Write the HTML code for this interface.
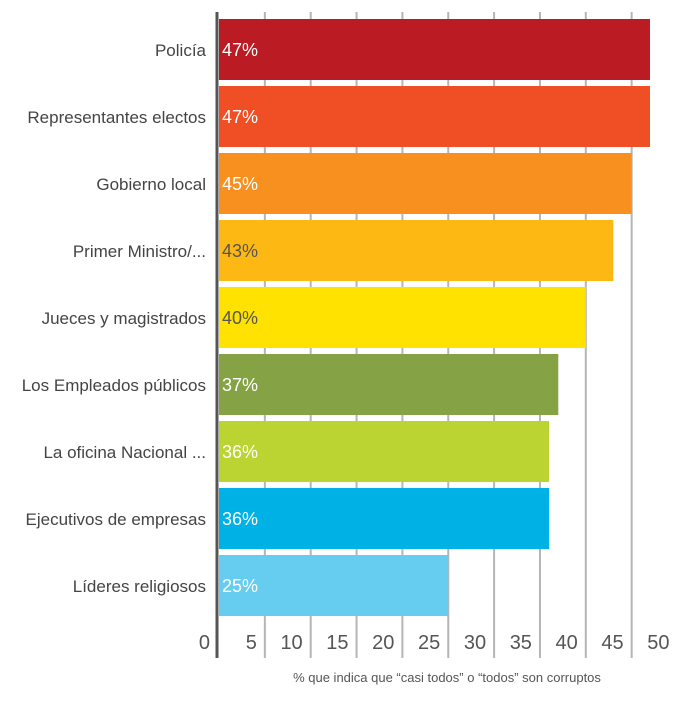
<!DOCTYPE html>
<html><head><meta charset="utf-8"><style>
body{margin:0;background:#fff;width:677px;height:707px;overflow:hidden}
svg{font-family:"Liberation Sans",sans-serif}
</style></head><body>
<svg id="chart" width="677" height="707"></svg>
<script>
const categories=["Policía","Representantes electos","Gobierno local","Primer Ministro/...","Jueces y magistrados","Los Empleados públicos","La oficina Nacional ...","Ejecutivos de empresas","Líderes religiosos"];
const values=[47,47,45,43,40,37,36,36,25];
const colors=["#BB1C23","#F04E25","#F7901E","#FDB813","#FFE200","#85A345","#BBD431","#00B1E6","#66CCF0"];
const labelColors=["#fff","#fff","#fff","#555","#555","#fff","#fff","#fff","#fff"];
const ticks=[0,5,10,15,20,25,30,35,40,45,50];
const NS="http://www.w3.org/2000/svg";
const svg=document.getElementById('chart');
const x=v=>219+9.17*v;
const y=i=>19+67*i;
function mk(t,a,txt){const e=document.createElementNS(NS,t);for(const k in a)e.setAttribute(k,a[k]);if(txt!=null)e.textContent=txt;svg.appendChild(e);return e;}
ticks.forEach(t=>{
  if(t>0&&t<50){
    const g=mk('line',{x1:x(t),x2:x(t),y1:12,y2:658,stroke:'#b5b5b5','stroke-width':2});
    
    
  }
  const lx=t===0?210:x(t)-8;
  const l=mk('text',{x:lx,y:649,'text-anchor':'end','font-size':20,fill:'#555'},t);
  
  
});
values.forEach((v,i)=>{
  const r=mk('rect',{x:x(0),y:y(i),width:x(v)-x(0),height:61,fill:colors[i]});
  
  
  const vl=mk('text',{x:222,y:y(i)+37,'font-size':18,fill:labelColors[i]},v+'%');
  
  
  const cl=mk('text',{x:206,y:y(i)+37,'text-anchor':'end','font-size':17,fill:'#444'},categories[i]);
  
  
});
const ax=mk('line',{x1:217,x2:217,y1:12,y2:658,stroke:'#555','stroke-width':3});


const tt=mk('text',{x:447,y:682,'text-anchor':'middle','font-size':13,fill:'#555'},'% que indica que “casi todos” o “todos” son corruptos');


</script>
</body></html>
